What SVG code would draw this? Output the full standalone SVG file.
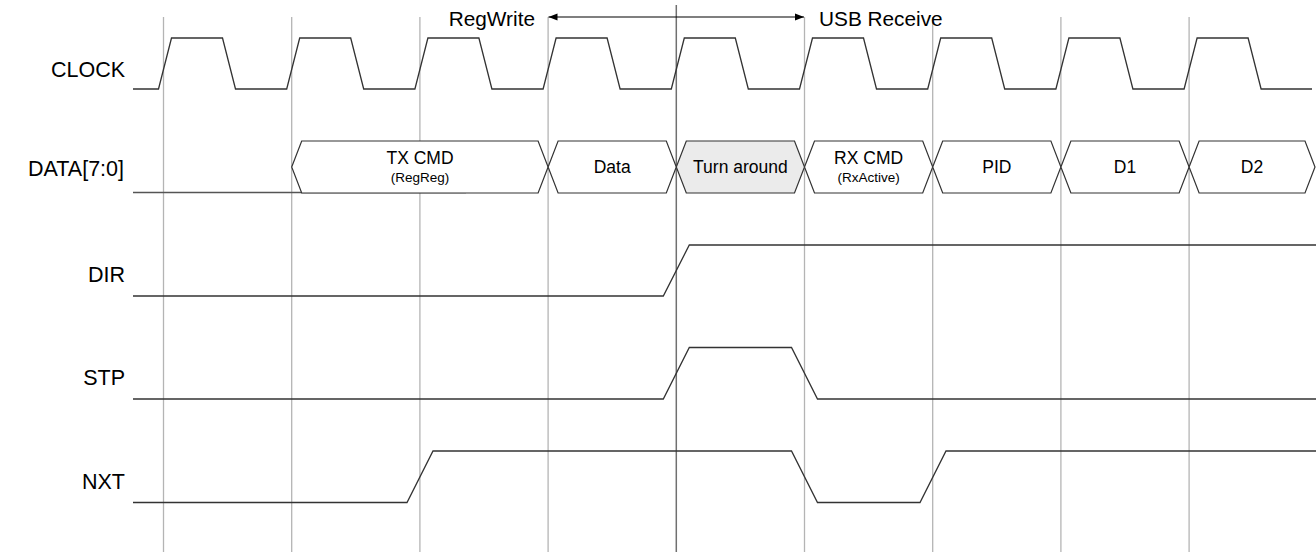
<svg xmlns="http://www.w3.org/2000/svg" width="1316" height="555" viewBox="0 0 1316 555">
<defs>
<marker id="ah" markerWidth="10" markerHeight="8" refX="9" refY="4" orient="auto-start-reverse" markerUnits="userSpaceOnUse">
<path d="M0,0.5 L9,4 L0,7.5 Z" fill="#000"/>
</marker>
<style>
.grid{stroke:#b4b4b4;stroke-width:1.3;fill:none}
.gridc{stroke:#707070;stroke-width:1.5;fill:none}
.sig{stroke:#333;stroke-width:1.3;fill:none;stroke-linejoin:miter}
.bus{stroke:#333;stroke-width:1.2;fill:#fff}
.busg{stroke:#333;stroke-width:1.2;fill:#ebebeb}
.lbl{font-family:"Liberation Sans",Arial,sans-serif;font-size:21.5px;fill:#000;text-anchor:end}
.top{font-family:"Liberation Sans",Arial,sans-serif;font-size:20.8px;fill:#000}
.bt{font-family:"Liberation Sans",Arial,sans-serif;font-size:17.5px;fill:#000;text-anchor:middle}
.bs{font-family:"Liberation Sans",Arial,sans-serif;font-size:13.5px;fill:#000;text-anchor:middle}
</style>
</defs>
<rect width="1316" height="555" fill="#fff"/>
<g id="grid">
<line class="grid" x1="163.5" y1="17" x2="163.5" y2="552"/>
<line class="grid" x1="291.7" y1="17" x2="291.7" y2="552"/>
<line class="grid" x1="419.9" y1="17" x2="419.9" y2="552"/>
<line class="grid" x1="548.1" y1="17" x2="548.1" y2="552"/>
<line class="gridc" x1="676.3" y1="5" x2="676.3" y2="552"/>
<line class="grid" x1="804.5" y1="17" x2="804.5" y2="552"/>
<line class="grid" x1="932.7" y1="17" x2="932.7" y2="552"/>
<line class="grid" x1="1060.9" y1="17" x2="1060.9" y2="552"/>
<line class="grid" x1="1189.1" y1="17" x2="1189.1" y2="552"/>
</g>
<g id="clock">
<text class="lbl" x="125" y="77">CLOCK</text>
<path class="sig" d="M133,89 L158.5,89 L171.5,38 L222.5,38 L235.5,89 L286.7,89 L299.7,38 L350.7,38 L363.7,89 L414.9,89 L427.9,38 L478.9,38 L491.9,89 L543.1,89 L556.1,38 L607.1,38 L620.1,89 L671.3,89 L684.3,38 L735.3,38 L748.3,89 L799.5,89 L812.5,38 L863.5,38 L876.5,89 L927.7,89 L940.7,38 L991.7,38 L1004.7,89 L1055.9,89 L1068.9,38 L1119.9,38 L1132.9,89 L1184.1,89 L1197.1,38 L1248.1,38 L1261.1,89 L1312,89"/>
</g>
<g id="data">
<text class="lbl" x="124" y="176">DATA[7:0]</text>
<line class="sig" x1="133" y1="192.5" x2="466" y2="192.5" style="stroke:#555"/>
<g id="d-txcmd">
<path class="bus" d="M291.7,167 L301.7,141 L538.1,141 L548.1,167 L538.1,193 L301.7,193 Z"/>
<text class="bt" x="420" y="164">TX CMD</text>
<text class="bs" x="420" y="182">(RegReg)</text>
</g>
<g id="d-data">
<path class="bus" d="M548.1,167 L558.1,141 L666.3,141 L676.3,167 L666.3,193 L558.1,193 Z"/>
<text class="bt" x="612.2" y="173">Data</text>
</g>
<g id="d-turn">
<path class="busg" d="M676.3,167 L686.3,141 L794.5,141 L804.5,167 L794.5,193 L686.3,193 Z"/>
<text class="bt" x="740.4" y="173">Turn around</text>
</g>
<g id="d-rxcmd">
<path class="bus" d="M804.5,167 L814.5,141 L922.7,141 L932.7,167 L922.7,193 L814.5,193 Z"/>
<text class="bt" x="868.6" y="164">RX CMD</text>
<text class="bs" x="868.6" y="182">(RxActive)</text>
</g>
<g id="d-pid">
<path class="bus" d="M932.7,167 L942.7,141 L1050.9,141 L1060.9,167 L1050.9,193 L942.7,193 Z"/>
<text class="bt" x="996.8" y="173">PID</text>
</g>
<g id="d-d1">
<path class="bus" d="M1060.9,167 L1070.9,141 L1179.1,141 L1189.1,167 L1179.1,193 L1070.9,193 Z"/>
<text class="bt" x="1125" y="173">D1</text>
</g>
<g id="d-d2">
<path class="bus" d="M1189.1,167 L1199.1,141 L1305,141 L1315,167 L1305,193 L1199.1,193 Z"/>
<text class="bt" x="1252" y="173">D2</text>
</g>
</g>
<g id="dir">
<text class="lbl" x="125" y="282">DIR</text>
<path class="sig" d="M133,296 L663.3,296 L689.3,245 L1316,245"/>
</g>
<g id="stp">
<text class="lbl" x="125" y="385">STP</text>
<path class="sig" d="M133,399 L663.3,399 L689.3,347.5 L791.5,347.5 L817.5,399 L1316,399"/>
</g>
<g id="nxt">
<text class="lbl" x="125" y="489">NXT</text>
<path class="sig" d="M133,502.5 L407,502.5 L433,451 L791.5,451 L817.5,502.5 L920,502.5 L946,451 L1316,451"/>
</g>
<g id="connectors">
<line x1="548.5" y1="17" x2="804" y2="17" stroke="#000" stroke-width="1.1" marker-start="url(#ah)" marker-end="url(#ah)"/>
<text class="top" x="535" y="26" text-anchor="end">RegWrite</text>
<text class="top" x="819" y="26">USB Receive</text>
</g>
</svg>
